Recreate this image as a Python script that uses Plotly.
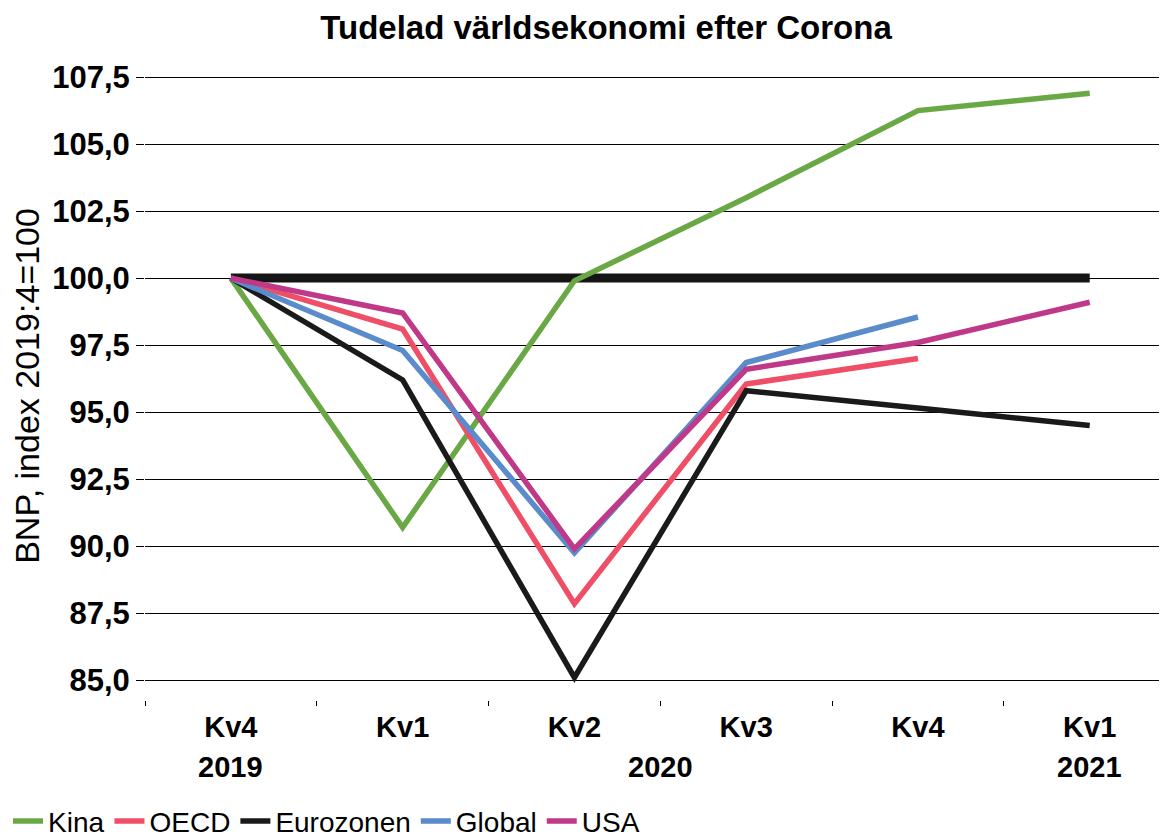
import plotly.graph_objects as go

# kvartal, index 2019:4 = 100
quarters = ["Kv4", "Kv1", "Kv2", "Kv3", "Kv4", "Kv1"]
years = ["2019", "2020", "2021"]
year_pos = [0, 2.5, 5]

kina = [100.0, 90.7, 99.9, 103.0, 106.25, 106.9]
oecd = [100.0, 98.1, 87.85, 96.05, 97.0, None]
eurozonen = [100.0, 96.2, 85.1, 95.8, 95.15, 94.5]
globalt = [100.0, 97.3, 89.75, 96.85, 98.55, None]
usa = [100.0, 98.7, 89.9, 96.6, 97.6, 99.1]
baseline = [100.0, 100.0, 100.0, 100.0, 100.0, 100.0]

yticks = [85.0, 87.5, 90.0, 92.5, 95.0, 97.5, 100.0, 102.5, 105.0, 107.5]

x = list(range(len(quarters)))

series = [
    ("Kina", kina, "#6aa846"),
    ("OECD", oecd, "#ef4f66"),
    ("Eurozonen", eurozonen, "#1a1a1a"),
    ("Global", globalt, "#5a8bcb"),
    ("USA", usa, "#c03888"),
]

fig = go.Figure()

fig.add_trace(go.Scatter(x=x, y=baseline, mode="lines", showlegend=False,
                         line=dict(color="#151515", width=9), hoverinfo="skip"))

for name, vals, col in series:
    fig.add_trace(go.Scatter(x=x, y=vals, mode="lines", name=name,
                             line=dict(color=col, width=5.5)))

font = "Liberation Sans, Arial, sans-serif"

# the page body has an 8px margin, so the figure is a bit smaller than the window
fig.update_layout(
    width=1159, height=830,
    margin=dict(l=137, r=0, t=64, b=138),
    plot_bgcolor="white", paper_bgcolor="white",
    font=dict(family=font, color="black"),
    title=dict(text="<b>Tudelad världsekonomi efter Corona</b>",
               x=0.516, xanchor="center", y=0.977, yanchor="middle",
               font=dict(size=33)),
    showlegend=True,
    legend=dict(orientation="h", xref="container", yref="container",
                x=0.0, xanchor="left", y=0.02, yanchor="middle",
                font=dict(size=28), itemwidth=30, tracegroupgap=0,
                bgcolor="rgba(0,0,0,0)"),
)

fig.update_xaxes(
    range=[-0.5, 5.45], showgrid=False, zeroline=False, showline=False,
    automargin=False,
    tickmode="array", tickvals=x, ticktext=["<b>%s</b>" % q for q in quarters],
    ticks="", tickfont=dict(size=29), ticklabelstandoff=7,
    minor=dict(tickmode="linear", tick0=-0.5, dtick=1, ticks="outside",
               ticklen=5, tickcolor="black", tickwidth=1),
)

fig.update_yaxes(
    range=[84.26, 107.69], showgrid=True, gridcolor="black", gridwidth=1,
    zeroline=False, showline=False, automargin=False,
    tickmode="array", tickvals=yticks,
    ticktext=["<b>%s</b>" % ("%.1f" % v).replace(".", ",") for v in yticks],
    ticks="outside", ticklen=8, tickcolor="black", tickfont=dict(size=31),
    ticklabelstandoff=0,
    title=dict(text="BNP, index 2019:4=100", font=dict(size=34), standoff=2),
)

for yr, pos in zip(years, year_pos):
    fig.add_annotation(x=pos, y=-0.107, xref="x", yref="paper", yanchor="middle",
                       text="<b>%s</b>" % yr, showarrow=False, font=dict(size=29))

fig.write_html("out.html")
